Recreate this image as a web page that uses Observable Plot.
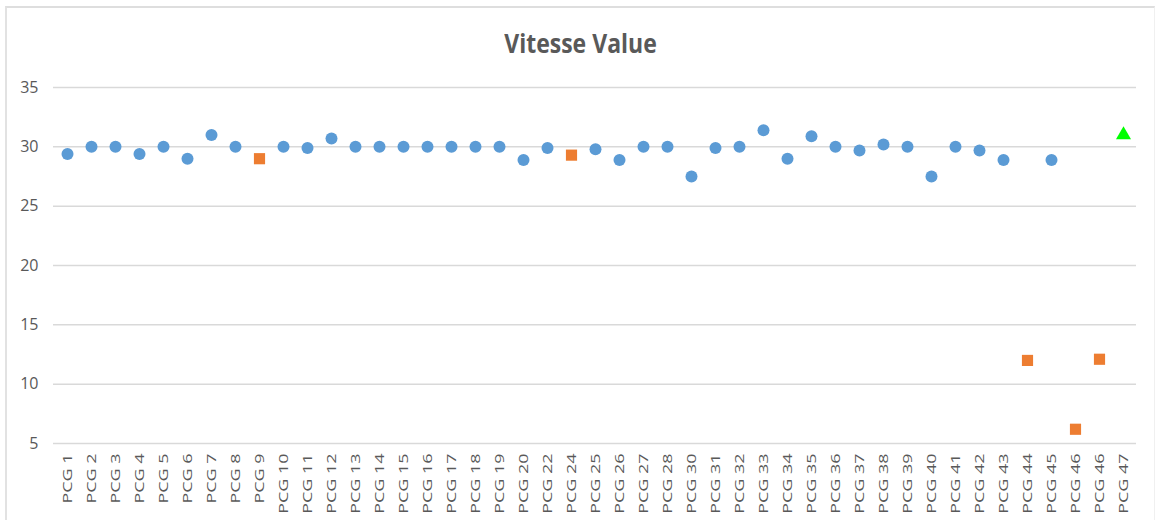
<!DOCTYPE html>
<html><head><meta charset="utf-8">
<script src="https://cdn.jsdelivr.net/npm/d3@7"></script>
<script src="https://cdn.jsdelivr.net/npm/@observablehq/plot@0.6"></script>
<style>
html,body{margin:0;padding:0;background:#fff;}
body{width:1155px;height:520px;overflow:hidden;position:relative;font-family:"Open Sans",sans-serif;}
#frame{position:absolute;left:5px;top:6px;width:1150px;height:520px;border-top:2.5px solid #dedede;border-left:2px solid #e2e2e2;border-right:1px solid #f0f0f0;box-sizing:border-box;}
#title{position:absolute;left:6px;width:1149px;top:33px;text-align:center;font-weight:bold;font-size:23px;line-height:23px;color:#595959;transform:scaleY(1.15);transform-origin:50% 100%;}
#chart{position:absolute;left:6px;top:65px;}
</style>
</head><body>
<div id="frame"></div>
<div id="title">Vitesse Value</div>
<div id="chart"></div>
<script>
const categories = ["PCG 1","PCG 2","PCG 3","PCG 4","PCG 5","PCG 6","PCG 7","PCG 8","PCG 9","PCG 10",
  "PCG 11","PCG 12","PCG 13","PCG 14","PCG 15","PCG 16","PCG 17","PCG 18","PCG 19","PCG 20",
  "PCG 22","PCG 24","PCG 25","PCG 26","PCG 27","PCG 28","PCG 30","PCG 31","PCG 32","PCG 33",
  "PCG 34","PCG 35","PCG 36","PCG 37","PCG 38","PCG 39","PCG 40","PCG 41","PCG 42","PCG 43",
  "PCG 44","PCG 45","PCG 46","PCG 46","PCG 47"];
const blueValues = [29.4,30,30,29.4,30,29.0,31.0,30,null,30,
  29.9,30.7,30,30,30,30,30,30,30,28.9,
  29.9,null,29.8,28.9,30,30,27.5,29.9,30,31.4,
  29.0,30.9,30,29.7,30.2,30,27.5,30,29.7,28.9,
  null,28.9,null,null,null];
const orangeValues = [null,null,null,null,null,null,null,null,29.0,null,
  null,null,null,null,null,null,null,null,null,null,
  null,29.3,null,null,null,null,null,null,null,null,
  null,null,null,null,null,null,null,null,null,null,
  12.0,null,6.2,12.1,null];
const greenValues = [null,null,null,null,null,null,null,null,null,null,
  null,null,null,null,null,null,null,null,null,null,
  null,null,null,null,null,null,null,null,null,null,
  null,null,null,null,null,null,null,null,null,null,
  null,null,null,null,31.0];
const yTicks = [5,10,15,20,25,30,35];

const idx = d3.range(categories.length);
const toRows = vals => idx.filter(i => vals[i] != null).map(i => ({i, v: vals[i]}));
const blue = toRows(blueValues), orange = toRows(orangeValues), green = toRows(greenValues);

const chart = Plot.plot({
  width: 1149,
  height: 455,
  marginLeft: 47,
  marginRight: 19,
  marginTop: 22,
  marginBottom: 77,
  style: {fontFamily: "'Open Sans', sans-serif", fontSize: "16px", color: "#595959", background: "transparent"},
  x: {type: "point", domain: idx, padding: 0.5, label: null},
  y: {domain: [5, 35], label: null},
  marks: [
    Plot.gridY(yTicks, {stroke: "#d9d9d9", strokeOpacity: 1, strokeWidth: 1.5}),
    Plot.axisY(yTicks, {tickSize: 0, tickPadding: 15, label: null, fontSize: 16}),
    Plot.axisX(idx, {tickSize: 0, tickPadding: 10, tickRotate: -90, tickFormat: i => categories[i], label: null, fontSize: 13}),
    Plot.dot(blue, {x: "i", y: "v", r: 6, fill: "#5B9BD5", stroke: "none"}),
    Plot.dot(orange, {x: "i", y: "v", r: 6.3, symbol: "square", fill: "#ED7D31", stroke: "none"}),
    Plot.dot(green, {x: "i", y: "v", r: 5.6, symbol: "triangle", fill: "#00FF00", stroke: "none"})
  ]
});
document.getElementById("chart").appendChild(chart);
chart.querySelectorAll('[aria-label="x-axis tick label"] text').forEach(t => {
  t.setAttribute("transform", (t.getAttribute("transform") || "") + " scale(1.38,1)");
});
</script>
</body></html>
